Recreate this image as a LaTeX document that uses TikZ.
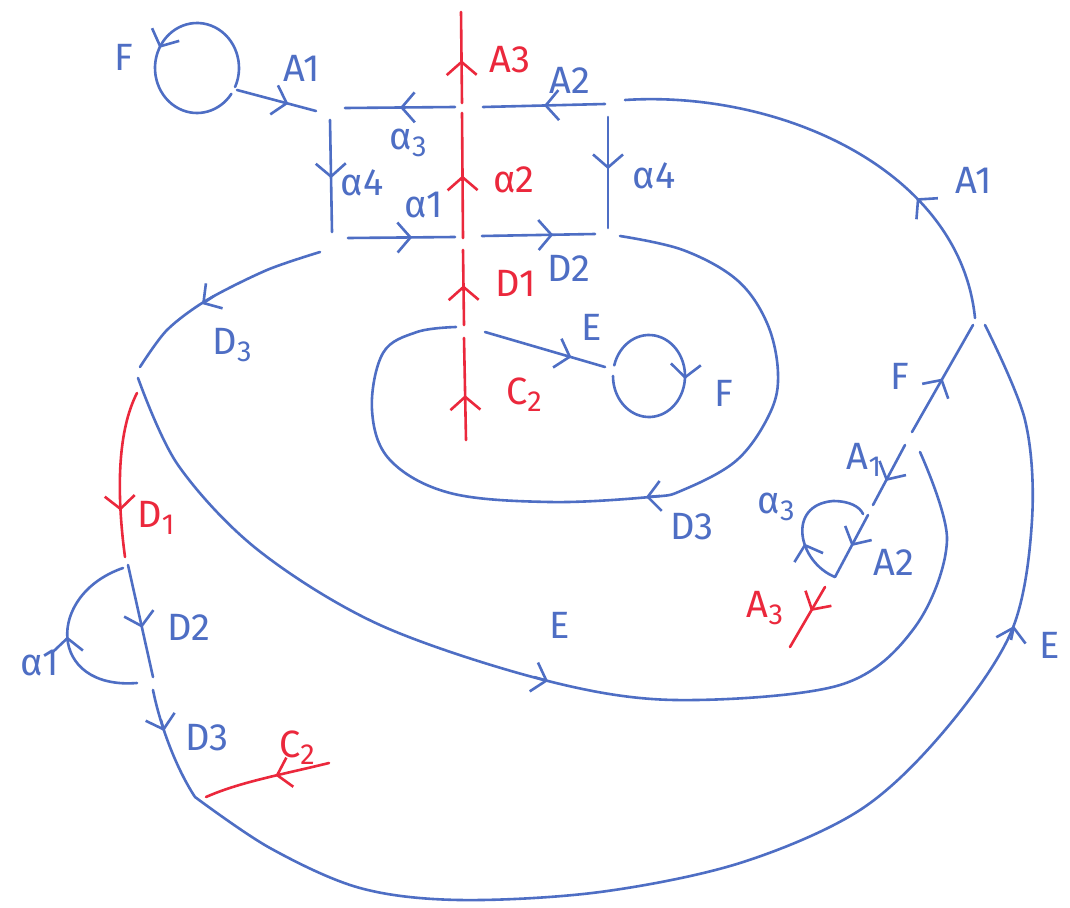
\documentclass[tikz,border=0pt]{standalone}
\usepackage{fontspec}
\setmainfont{Fira Sans}
\usetikzlibrary{arrows.meta,decorations.markings,calc}
\definecolor{pb}{HTML}{4E6EC4}
\definecolor{pr}{HTML}{EB283C}
\newcommand{\sbd}[1]{\raisebox{-0.35ex}{\fontsize{29}{29}\selectfont #1}}
\tikzset{
  bl/.style={draw=pb, line width=2.6pt, line cap=round},
  rd/.style={draw=pr, line width=2.6pt, line cap=round},
  midarr/.style={postaction={decorate, decoration={markings, mark=at position #1 with {\arrow{Straight Barb[length=13pt,width=30pt]}}}}},
  tipb/.style={draw=pb, line width=2.6pt, -{Straight Barb[length=13pt,width=30pt]}},
  lb/.style={text=pb, font=\fontsize{38}{38}\selectfont, inner sep=0pt},
  lr/.style={lb, text=pr},
}
\begin{document}
\begin{tikzpicture}[x=1pt,y=-1pt]
\fill[white] (0,0) rectangle (1070,907);
\useasboundingbox (0,0) rectangle (1070,907);

% ---- top-left loop F
\coordinate (c1) at (197,68);
\coordinate (t1) at (237,90);
\coordinate (t2) at (316,111);
\draw[bl, midarr=0.51] ($(c1)+(385:42 and 45)$) arc[start angle=385, end angle=35, x radius=42, y radius=45];
\draw[bl, midarr=0.65] (t1) -- (t2);

% ---- rectangle
\coordinate (r1) at (455,107); \coordinate (r2) at (345,108);
\coordinate (r3) at (605,104); \coordinate (r4) at (483,107);
\coordinate (r5) at (330,120); \coordinate (r6) at (332,232);
\coordinate (r7) at (608,117); \coordinate (r8) at (608,228);
\coordinate (r9) at (348,238); \coordinate (r10) at (455,237);
\coordinate (r11) at (482,236); \coordinate (r12) at (595,234);
\draw[bl, midarr=0.5] (r1) -- (r2);
\draw[bl, midarr=0.5] (r3) -- (r4);
\draw[bl, midarr=0.52] (r5) -- (r6);
\draw[bl, midarr=0.47] (r7) -- (r8);
\draw[bl, midarr=0.6] (r9) -- (r10);
\draw[bl, midarr=0.63] (r11) -- (r12);

% ---- red vertical
\coordinate (v1) at (462,103); \coordinate (v2) at (461,12);
\coordinate (v3) at (463,238); \coordinate (v4) at (462,113);
\coordinate (v5) at (464,325); \coordinate (v6) at (463,250);
\coordinate (v7) at (466,440); \coordinate (v8) at (464,338);
\draw[rd, midarr=0.47] (v1) -- (v2);
\draw[rd, midarr=0.5] (v3) -- (v4);
\draw[rd, midarr=0.53] (v5) -- (v6);
\draw[rd, midarr=0.44] (v7) -- (v8);

% ---- big outer arc A1
\coordinate (b1) at (975,318); \coordinate (b2) at (625,100);
\draw[bl, midarr=0.3] (b1) .. controls (960,170) and (780,90) .. (b2);

% ---- diagonal F, A1, A2
\coordinate (d1) at (912,432); \coordinate (d2) at (973,325);
\coordinate (d3) at (905,445); \coordinate (d4) at (873,505);
\coordinate (d5) at (868,515); \coordinate (d6) at (835,577);
\coordinate (d7) at (863,514);
\draw[bl, midarr=0.5] (d1) -- (d2);
\draw[bl, midarr=0.6] (d3) -- (d4);
\draw[bl, midarr=0.5] (d5) -- (d6);
\draw[bl, midarr=0.33] (d6) .. controls (798,562) and (786,505) .. (833,501) .. controls (850,501) and (860,507) .. (d7);
\coordinate (d8) at (825,587); \coordinate (d9) at (790,647);
\draw[rd, midarr=0.4] (d8) -- (d9);

% ---- outer bottom curve (D3 then E)
\coordinate (e0) at (153,690); \coordinate (e1) at (195,797); \coordinate (e2) at (985,325);
\draw[bl] (e0) .. controls (160,725) and (176,768) .. (e1);
\draw[tipb] (161,720) -- (164,731);
\draw[bl] plot[smooth, tension=0.55] coordinates {(195,797) (270,848) (360,888) (460,900) (600,892) (740,863) (860,810) (945,730) (1012,630) (1032,520) (1025,420) (985,325)};
\draw[tipb] (1011,640) -- (1014,626);

% ---- middle E curve
\coordinate (m1) at (138,378); \coordinate (m2) at (920,452);
\draw[bl] plot[smooth, tension=0.55] coordinates {(138,378) (178,465) (258,550) (380,625) (544,680) (675,700) (840,685) (915,627) (947,540) (920,452)};
\draw[tipb] (534,677) -- (548,681);

% ---- outer-left D3
\coordinate (o1) at (320,252); \coordinate (o2) at (140,367);
\draw[bl] plot[smooth] coordinates {(320,252) (267,270) (207,300) (167,330) (140,367)};
\draw[tipb] (214,296) -- (202,304);

% ---- red D1
\coordinate (p1) at (137,393); \coordinate (p2) at (125,557);
\draw[rd, midarr=0.72] (p1) .. controls (118,430) and (116,490) .. (p2);

% ---- D2 and alpha1 loop
\coordinate (q1) at (128,565); \coordinate (q2) at (153,677);
\coordinate (q3) at (137,683); \coordinate (q4) at (123,568);
\draw[bl, midarr=0.56] (q1) -- (q2);
\draw[bl, midarr=0.5] (q3) .. controls (48,690) and (45,595) .. (q4);

% ---- red C2
\coordinate (s1) at (329,763); \coordinate (s2) at (206,797);
\draw[rd, midarr=0.43] (s1) .. controls (280,775) and (240,782) .. (s2);

% ---- inner oval D3
\coordinate (i1) at (620,236); \coordinate (i2) at (456,327);
\draw[bl] plot[smooth, tension=0.6] coordinates {(620,236) (683,250) (737,280) (767,323) (778,373) (770,413) (737,460) (683,490) (650,497) (550,502) (450,493) (390,460) (372,410) (383,353) (417,332) (456,327)};
\draw[tipb] (660,496) -- (646,497);

% ---- inner E line and small loop F
\coordinate (g1) at (485,332); \coordinate (g2) at (605,367);
\draw[bl, midarr=0.72] (g1) -- (g2);
\coordinate (c2) at (649,376);
\draw[bl, midarr=0.49] ($(c2)+(195:36 and 41)$) arc[start angle=195, end angle=540, x radius=36, y radius=41];

% ---- labels
\node[lb] (L1) at (124,57) {F};
\node[lb] (L2) at (302,68) {A1};
\node[lr] (L3) at (510,60) {A3};
\node[lb] (L4) at (570,80) {A2};
\node[lb] (L5) at (408,143) {α\sbd{3}};
\node[lb] (L6) at (362,183) {α4};
\node[lr] (L7) at (514,180) {α2};
\node[lb] (L8) at (654,176) {α4};
\node[lb] (L9) at (424,205) {α1};
\node[lr] (L10) at (516,283) {D1};
\node[lb] (L11) at (569,268) {D2};
\node[lb] (L12) at (592,327) {E};
\node[lr] (L13) at (524,395) {C\sbd{2}};
\node[lb] (L14) at (724,393) {F};
\node[lb] (L15) at (974,180) {A1};
\node[lb] (L16) at (232,345) {D\sbd{3}};
\node[lb] (L17) at (692,527) {D3};
\node[lb] (L18) at (900,376) {F};
\node[lb] (L19) at (864,460) {A\sbd{1}};
\node[lb] (L20) at (776,507) {α\sbd{3}};
\node[lb] (L21) at (894,562) {A2};
\node[lr] (L22) at (765,608) {A\sbd{3}};
\node[lb] (L23) at (560,625) {E};
\node[lb] (L24) at (1050,645) {E};
\node[lr] (L25) at (156,518) {D\sbd{1}};
\node[lb] (L26) at (189,627) {D2};
\node[lb] (L27) at (40,663) {α1};
\node[lb] (L28) at (207,738) {D3};
\node[lr] (L29) at (297,748) {C\sbd{2}};
\end{tikzpicture}
\end{document}
